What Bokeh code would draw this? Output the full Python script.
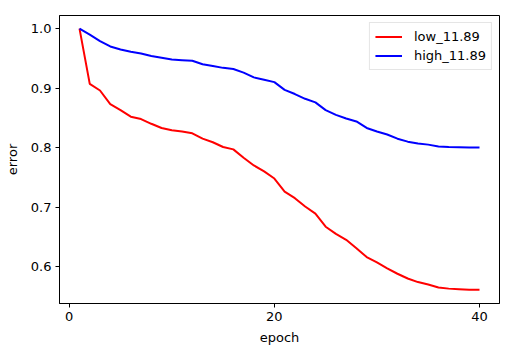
from bokeh.plotting import figure
from bokeh.models import FixedTicker, PrintfTickFormatter, Range1d, Legend, LegendItem
from bokeh.embed import file_html
from bokeh.resources import INLINE

epochs = list(range(1, 41))
low_11_89 = [1.000, 0.907, 0.896, 0.873, 0.863, 0.852, 0.848, 0.840, 0.833, 0.829,
             0.827, 0.824, 0.815, 0.809, 0.801, 0.797, 0.783, 0.770, 0.760, 0.748,
             0.726, 0.715, 0.701, 0.689, 0.667, 0.655, 0.645, 0.631, 0.616, 0.607,
             0.597, 0.588, 0.580, 0.574, 0.570, 0.565, 0.563, 0.562, 0.561, 0.561]
high_11_89 = [1.000, 0.990, 0.979, 0.970, 0.965, 0.961, 0.958, 0.954, 0.951, 0.948,
              0.947, 0.946, 0.940, 0.937, 0.934, 0.932, 0.926, 0.918, 0.914, 0.910,
              0.897, 0.890, 0.882, 0.876, 0.863, 0.855, 0.849, 0.844, 0.833, 0.827,
              0.822, 0.815, 0.810, 0.807, 0.805, 0.802, 0.801, 0.8005, 0.800, 0.800]
x_ticks = [0, 20, 40]
y_ticks = [0.6, 0.7, 0.8, 0.9, 1.0]

FONT = "DejaVu Sans"

p = figure(width=512, height=356, output_backend="svg", toolbar_location=None,
           x_range=Range1d(-0.95, 41.95), y_range=Range1d(0.538, 1.022),
           min_border_left=59, min_border_right=13, min_border_top=15, min_border_bottom=53)

r_low = p.line(epochs, low_11_89, line_color="red", line_width=2)
r_high = p.line(epochs, high_11_89, line_color="blue", line_width=2)

p.xgrid.visible = False
p.ygrid.visible = False
p.outline_line_color = "black"
p.outline_line_width = 1

for ax in (p.xaxis[0], p.yaxis[0]):
    ax.axis_line_color = "black"
    ax.major_tick_line_color = "black"
    ax.major_tick_out = 4
    ax.major_tick_in = 0
    ax.minor_tick_line_color = None
    ax.major_label_text_font = FONT
    ax.major_label_text_font_size = "13px"
    ax.major_label_text_color = "black"
    ax.major_label_standoff = 4
    ax.axis_label_text_font = FONT
    ax.axis_label_text_font_size = "13px"
    ax.axis_label_text_font_style = "normal"
    ax.axis_label_text_color = "black"

p.xaxis.ticker = FixedTicker(ticks=x_ticks)
p.yaxis.ticker = FixedTicker(ticks=y_ticks)
p.xaxis.formatter = PrintfTickFormatter(format="%d")
p.yaxis.formatter = PrintfTickFormatter(format="%.1f")
p.xaxis.axis_label = "epoch"
p.yaxis.axis_label = "error"
p.xaxis.axis_label_standoff = 6
p.yaxis.axis_label_standoff = 8

legend = Legend(items=[LegendItem(label="low_11.89", renderers=[r_low]),
                       LegendItem(label="high_11.89", renderers=[r_high])],
                location="top_right")
legend.label_text_font = FONT
legend.label_text_font_size = "13px"
legend.label_text_color = "black"
legend.glyph_width = 27
legend.glyph_height = 17
legend.label_height = 17
legend.label_standoff = 12
legend.spacing = 2
legend.padding = 5
legend.margin = 7
legend.border_line_color = "#cccccc"
legend.border_line_width = 1
legend.background_fill_alpha = 0.8
p.add_layout(legend)

open("out.html", "w").write(file_html(p, INLINE))
